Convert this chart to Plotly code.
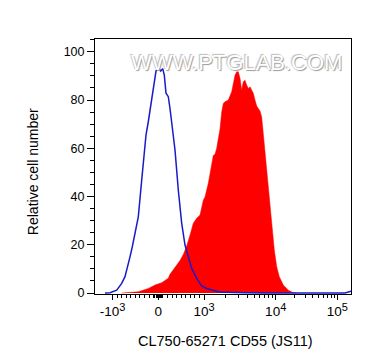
import math
import plotly.graph_objects as go

# Histogram data in display-channel units (biexponential scale) and relative counts
iso_channel = [10, 15, 21.7, 26.7, 30, 32.7, 35, 37.3, 39.3, 40.7, 43.3, 46.7, 48.3, 51, 53.3,
               55.7, 58.3, 60, 61, 63.3, 65.7, 67.7, 69.3, 71, 73.3, 75, 77.7, 80, 83.3, 86.7,
               90, 93.3, 96.7, 101.7, 106.7, 111.7, 118.3, 125, 130, 135, 140, 150, 170, 250, 254, 256]
iso_count = [0, 0.1, 1.2, 4, 6.8, 10.9, 15, 19.2, 23.3, 26.1, 31.6, 46.8, 53.7, 65.5, 71,
             77.9, 85.5, 88.3, 92, 93.5, 92, 93, 90.3, 82.8, 81.4, 76.5, 66.9, 59.3, 42.7, 28.9,
             19.9, 15, 10.2, 6.1, 2.9, 1.9, 1.2, 0.3, 0.3, 0.4, 0.2, 0.1, 0, 0, 0.6, 0.8]

cd55_channel = [26.7, 43.3, 53.3, 60, 66.7, 73.3, 75, 80, 85, 88.3, 91.7, 95, 98.3, 101.7, 105,
                108.3, 110, 113.3, 115, 116.7, 118.3, 120, 121.7, 123.3, 125, 126.7, 128.3, 130,
                133.3, 136.7, 138.3, 140, 141.7, 143.3, 145, 146.7, 148.3, 150, 151.7, 153.3,
                155, 156.7, 158.3, 160, 161.7, 163.3, 165, 166.7, 168.3, 170, 171, 174.3, 177.3,
                179.3, 181.7, 184.3, 188.3, 193.3, 198.3, 201.7]
cd55_count = [0, 0.5, 1.9, 3.3, 4.3, 6.1, 7.8, 10.5, 13.5, 16, 19.5, 24, 28.9, 31, 32.3,
              38.5, 39.8, 45.5, 50, 54, 57, 57.5, 60, 64, 68, 75, 78.6, 79.3,
              80, 83.4, 86.9, 90.3, 91.7, 91.7, 89, 84.1, 87.6, 88.2, 86.2, 84.8,
              85.5, 84.1, 82.8, 80, 77.5, 76.5, 75.5, 73, 66, 57, 52.3, 38.5, 24.7,
              17.8, 10.9, 6.8, 3.3, 1.2, 0.1, 0]

# Axis ticks
x_tick_values = [-1000, 0, 1000, 10000, 100000]
x_tick_bases = ["-10", "0", "10", "10", "10"]
x_tick_exps = ["3", "", "3", "4", "5"]
y_tick_values = [0, 20, 40, 60, 80, 100]

x_title = "CL750-65271 CD55 (JS11)"
y_title = "Relative cell number"
watermark = "WWW.PTGLAB.COM"


def to_channel(v):
    """Biexponential-like display transform (value -> display channel)."""
    if -1000 <= v <= 1000:
        return 63.3 + v * 0.04585
    if v > 1000 and v <= 10000:
        return 109.0 + 71.7 * math.log10(v / 1000)
    if v > 10000:
        return 180.7 + 61.6 * math.log10(v / 10000)
    return 17.3 - 71.7 * math.log10(-v / 1000)


major_ch = [to_channel(v) for v in x_tick_values]
x_tick_labels = [b + (f"<sup><span style='font-size:11px'>{e}</span></sup>" if e else "")
                 for b, e in zip(x_tick_bases, x_tick_exps)]
minor_vals = ([-900 + 100 * i for i in range(9)] + [-75, -50, -25, 25, 50, 75] +
              [100 * i for i in range(1, 10)] +
              [1000 * i for i in range(2, 10)] + [10000 * i for i in range(2, 10)])
minor_ch = [to_channel(v) for v in minor_vals]

FONT = "Liberation Sans, Arial, sans-serif"

fig = go.Figure()
fig.add_trace(go.Scatter(x=cd55_channel, y=cd55_count, mode="lines", fill="tozeroy",
                         fillcolor="#ff0000", line=dict(color="#ff0000", width=0.5),
                         hoverinfo="skip", showlegend=False))
fig.add_trace(go.Scatter(x=iso_channel, y=iso_count, mode="lines",
                         line=dict(color="#1a1ac8", width=1.5),
                         hoverinfo="skip", showlegend=False))

fig.update_layout(
    width=364, height=356,
    margin=dict(l=87, r=21, t=31, b=70, autoexpand=False),
    paper_bgcolor="white", plot_bgcolor="white",
    font=dict(family=FONT, color="black"),
    xaxis=dict(range=[0, 256], showgrid=False, zeroline=False, automargin=False,
               showline=True, linecolor="black", linewidth=1, mirror=True,
               tickmode="array", tickvals=major_ch, ticktext=x_tick_labels,
               ticks="outside", ticklen=5, tickwidth=1.2, tickcolor="black",
               tickfont=dict(family=FONT, size=13.5, color="black"),
               minor=dict(tickmode="array", tickvals=minor_ch, ticks="outside",
                          ticklen=3, tickwidth=1, tickcolor="black")),
    yaxis=dict(range=[-0.4, 105.3], showgrid=False, zeroline=False, automargin=False,
               showline=True, linecolor="black", linewidth=1, mirror=True,
               tickmode="array", tickvals=y_tick_values,
               ticks="outside", ticklen=7, tickwidth=1.2, tickcolor="black",
               tickfont=dict(family=FONT, size=12.5, color="black"),
               minor=dict(dtick=5, tick0=0, ticks="outside", ticklen=4,
                          tickwidth=1, tickcolor="black")),
    annotations=[
        dict(text=watermark, xref="paper", yref="paper", x=0.551, y=0.908,
             xanchor="center", yanchor="middle", showarrow=False,
             font=dict(family=FONT, size=22, color="white",
                       shadow="1px 1px 1px #999, -1px -1px 1px #bbb")),
        dict(text=x_title, xref="paper", yref="paper", x=0.51, y=-0.183,
             xanchor="center", yanchor="middle", showarrow=False,
             font=dict(family=FONT, size=14.5, color="black")),
        dict(text=y_title, xref="paper", yref="paper", x=-0.242, y=0.478,
             xanchor="center", yanchor="middle", showarrow=False, textangle=-90,
             font=dict(family=FONT, size=14, color="black")),
    ],
)

fig.write_html("out.html")
